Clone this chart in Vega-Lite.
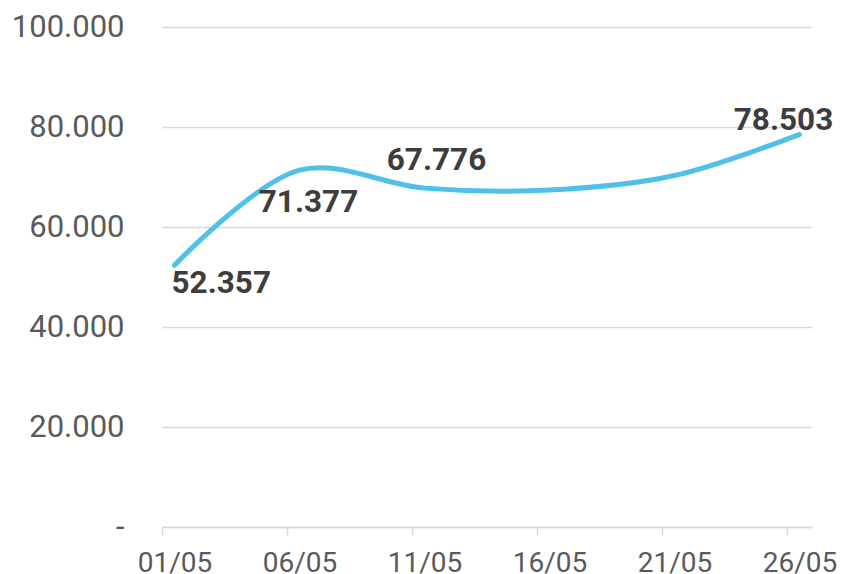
{
  "$schema": "https://vega.github.io/schema/vega-lite/v6.json",
  "width": 650,
  "height": 500,
  "autosize": "none",
  "padding": {"left": 162, "top": 27, "right": 29, "bottom": 47},
  "background": "white",
  "config": {
    "view": {"stroke": null},
    "font": "Roboto"
  },
  "data": {
    "values": [
      {"date": "2024-05-01 12:00", "value": 52357, "label": "52.357"},
      {"date": "2024-05-06 12:00", "value": 71377, "label": "71.377"},
      {"date": "2024-05-11 12:00", "value": 67776, "label": "67.776"},
      {"date": "2024-05-16 12:00", "value": 67400, "label": ""},
      {"date": "2024-05-21 12:00", "value": 70300, "label": ""},
      {"date": "2024-05-26 12:00", "value": 78503, "label": "78.503"}
    ]
  },
  "encoding": {
    "x": {
      "field": "date",
      "type": "temporal",
      "scale": {"domain": [{"year": 2024, "month": 5, "date": 1}, {"year": 2024, "month": 5, "date": 27}]},
      "axis": {
        "title": null,
        "values": [
          {"year": 2024, "month": 5, "date": 1},
          {"year": 2024, "month": 5, "date": 6},
          {"year": 2024, "month": 5, "date": 11},
          {"year": 2024, "month": 5, "date": 16},
          {"year": 2024, "month": 5, "date": 21},
          {"year": 2024, "month": 5, "date": 26}
        ],
        "format": "%d/%m",
        "grid": false,
        "domain": true,
        "domainColor": "#d9d9d9",
        "domainWidth": 1.5,
        "tickColor": "#d9d9d9",
        "tickWidth": 1.5,
        "tickSize": 8,
        "labelFont": "Roboto",
        "labelFontSize": 28,
        "labelColor": "#5a5a5a",
        "labelBaseline": "alphabetic",
        "labelPadding": 36,
        "labelOffset": 12.5,
        "labelFlush": false
      }
    },
    "y": {
      "field": "value",
      "type": "quantitative",
      "scale": {"domain": [0, 100000]},
      "axis": {
        "title": null,
        "values": [0, 20000, 40000, 60000, 80000, 100000],
        "labelExpr": "datum.value == 0 ? '-' : replace(format(datum.value, ','), ',', '.')",
        "domain": false,
        "ticks": false,
        "grid": true,
        "gridColor": "#d9d9d9",
        "gridWidth": 1.5,
        "labelFont": "Roboto",
        "labelFontSize": 31,
        "labelColor": "#5a5a5a",
        "labelPadding": 38
      }
    }
  },
  "layer": [
    {
      "mark": {"type": "line", "interpolate": "catmull-rom", "color": "#4fc0e8", "strokeWidth": 5, "strokeCap": "round"}
    },
    {
      "transform": [{"filter": "datum.label == '52.357'"}],
      "mark": {"type": "text", "align": "left", "baseline": "alphabetic", "dx": -3, "dy": 28, "font": "Roboto", "fontSize": 31.5, "fontWeight": "bold", "color": "#3d3d3d"},
      "encoding": {"text": {"field": "label"}}
    },
    {
      "transform": [{"filter": "datum.label == '71.377'"}],
      "mark": {"type": "text", "align": "center", "baseline": "alphabetic", "dx": 9, "dy": 42, "font": "Roboto", "fontSize": 31.5, "fontWeight": "bold", "color": "#3d3d3d"},
      "encoding": {"text": {"field": "label"}}
    },
    {
      "transform": [{"filter": "datum.label == '67.776'"}],
      "mark": {"type": "text", "align": "center", "baseline": "alphabetic", "dx": 12, "dy": -18, "font": "Roboto", "fontSize": 31.5, "fontWeight": "bold", "color": "#3d3d3d"},
      "encoding": {"text": {"field": "label"}}
    },
    {
      "transform": [{"filter": "datum.label == '78.503'"}],
      "mark": {"type": "text", "align": "center", "baseline": "alphabetic", "dx": -16, "dy": -4, "font": "Roboto", "fontSize": 31.5, "fontWeight": "bold", "color": "#3d3d3d"},
      "encoding": {"text": {"field": "label"}}
    }
  ]
}
